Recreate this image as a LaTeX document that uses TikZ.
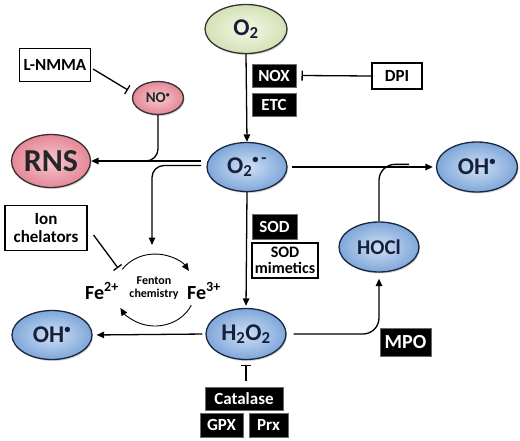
\documentclass[tikz,border=0pt]{standalone}
\usepackage{fontspec}
\setmainfont{Carlito}
\usetikzlibrary{shapes.geometric,arrows.meta,shadows,calc}
\definecolor{bluein}{HTML}{CFE0F4}
\definecolor{blueout}{HTML}{7FA7DA}
\definecolor{blueline}{HTML}{1A2740}
\definecolor{yelin}{HTML}{F5F8E4}
\definecolor{yelout}{HTML}{D3E1B6}
\definecolor{pinkin}{HTML}{F6C9D0}
\definecolor{pinkout}{HTML}{E58797}
\definecolor{navytext}{HTML}{16203A}
\definecolor{boxedge}{HTML}{6A6A6A}
\newcommand{\fsz}[1]{\fontsize{#1}{#1}\selectfont}
\newcommand{\rad}{\textsuperscript{\scalebox{0.75}{\textbullet}}}
\begin{document}
\begin{tikzpicture}[x=1pt,y=-1pt,
  ell/.style={ellipse, draw=blueline, line width=1.3pt, inner sep=0pt,
    inner color=bluein, outer color=blueout, text=navytext, font=\bfseries\fsz{24},
    drop shadow={opacity=0.35, shadow xshift=1pt, shadow yshift=-1.5pt}},
  yell/.style={ell, inner color=yelin, outer color=yelout, draw=black!80},
  pell/.style={ell, inner color=pinkin, outer color=pinkout, draw=black!80, text=black!85},
  blk/.style={rectangle, fill=black, draw=boxedge, line width=1pt, text=white,
    font=\bfseries\fsz{17}, inner sep=0pt},
  wbox/.style={rectangle, draw=black, line width=1.1pt, fill=white, text=black,
    font=\bfseries\fsz{17}, inner sep=0pt, align=center},
  arr/.style={-{Triangle[length=7.5pt,width=6.5pt]}, line width=1.3pt},
  inh/.style={-{Bar[width=10pt,line width=1.3pt]}, line width=1.3pt},
  lbl/.style={inner sep=0pt, font=\bfseries\fsz{20}}
]
\useasboundingbox (0,0) rectangle (520,440);

% ellipses
\node[yell, minimum width=82, minimum height=49] (o2) at (246,29) {O\textsubscript{2}};
\node[ell, minimum width=80, minimum height=49] (sup) at (247,167) {O\textsubscript{2}\textsuperscript{\scalebox{0.75}{\textbullet}\,-}};
\node[pell, minimum width=51, minimum height=33, font=\bfseries\fsz{15}] (no) at (158,98) {NO\rad};
\node[pell, minimum width=79, minimum height=53, font=\bfseries\fsz{32}] (rns) at (51,161) {RNS};
\node[ell, minimum width=80, minimum height=49] (ohl) at (52,335) {OH\rad};
\node[ell, minimum width=80, minimum height=51] (h2o2) at (246,334) {H\textsubscript{2}O\textsubscript{2}};
\node[ell, minimum width=80, minimum height=50, font=\bfseries\fsz{21}] (hocl) at (379,247) {HOCl};
\node[ell, minimum width=81, minimum height=50] (ohr) at (477,167) {OH\rad};

% black boxes
\node[blk, minimum width=44, minimum height=23] (nox) at (274,75.5) {NOX};
\node[blk, minimum width=44, minimum height=23] (etc) at (274,105) {ETC};
\node[blk, minimum width=45, minimum height=25] (sod) at (274.5,226.5) {SOD};
\node[blk, minimum width=78, minimum height=23] (cat) at (244,398.5) {Catalase};
\node[blk, minimum width=43, minimum height=24] (gpx) at (221.5,425) {GPX};
\node[blk, minimum width=39, minimum height=24] (prx) at (268.5,425) {Prx};
\node[blk, minimum width=51, minimum height=28, font=\bfseries\fsz{20}] (mpo) at (405.5,342) {MPO};

% white boxes
\node[wbox, minimum width=50, minimum height=26] (dpi) at (397,76) {DPI};
\node[wbox, minimum width=71, minimum height=33] (lnmma) at (55,65) {L-NMMA};
\node[wbox, minimum width=82, minimum height=45] (ion) at (46,228) {Ion\\[1pt]chelators};
\node[wbox, minimum width=66, minimum height=35, font=\bfseries\fsz{16}] (sodm) at (285,260.5) {SOD\\mimetics};

% Fenton
\coordinate (fc) at (155,290);
\node[lbl] (fe2) at (102,291) {Fe\textsuperscript{2+}};
\node[lbl] (fe3) at (204,291) {Fe\textsuperscript{3+}};
\node[inner sep=0pt, align=center, font=\bfseries\fsz{12}] (fenton) at (154,288) {Fenton\\[1pt]chemistry};
\draw[arr, line width=0.9pt] ($(fc)+(-145:40 and 36)$) arc[start angle=-145, end angle=-32, x radius=40, y radius=36];
\draw[arr, line width=0.9pt] ($(fc)+(25:40 and 36)$) arc[start angle=25, end angle=150, x radius=40, y radius=36];

% connectors
\draw[arr] (o2.south) -- (sup.north);
\draw[inh] (dpi.west) -- ($(nox.east)+(5,0)$);
\draw[inh] ($(lnmma.east)+(2,4)$) -- ($(no.west)+(-4,-8)$);
\coordinate (s1) at (201,161);
\coordinate (s2) at (201,165.5);
\draw[arr] (s1) -- (s1 -| rns.east);
\draw[line width=1.3pt, rounded corners=12pt] (no.south) |- ($(s1 -| rns.east)+(42,0)$);
\draw[arr, rounded corners=12pt] (s2) -| (152,245);
\draw[inh] ($(ion.east)+(6,7)$) -- (118,268);
\draw[arr, shorten <=4pt, shorten >=3pt] (sup.east) -- (ohr.west);
\draw[line width=1.3pt, rounded corners=16pt] (hocl.north) |- ($(hocl.north)+(30,-57)$);
\draw[arr, shorten >=2pt] (sup.south) -- (h2o2.north);
\draw[arr, shorten <=3pt, shorten >=4pt] (h2o2.west) -- (ohl.east);
\draw[arr, rounded corners=16pt, shorten <=7pt, shorten >=6pt] (h2o2.east) -| (hocl.south);
\draw[inh, shorten <=6pt, shorten >=5pt] (cat.north -| h2o2.south) -- (h2o2.south);
\end{tikzpicture}
\end{document}
